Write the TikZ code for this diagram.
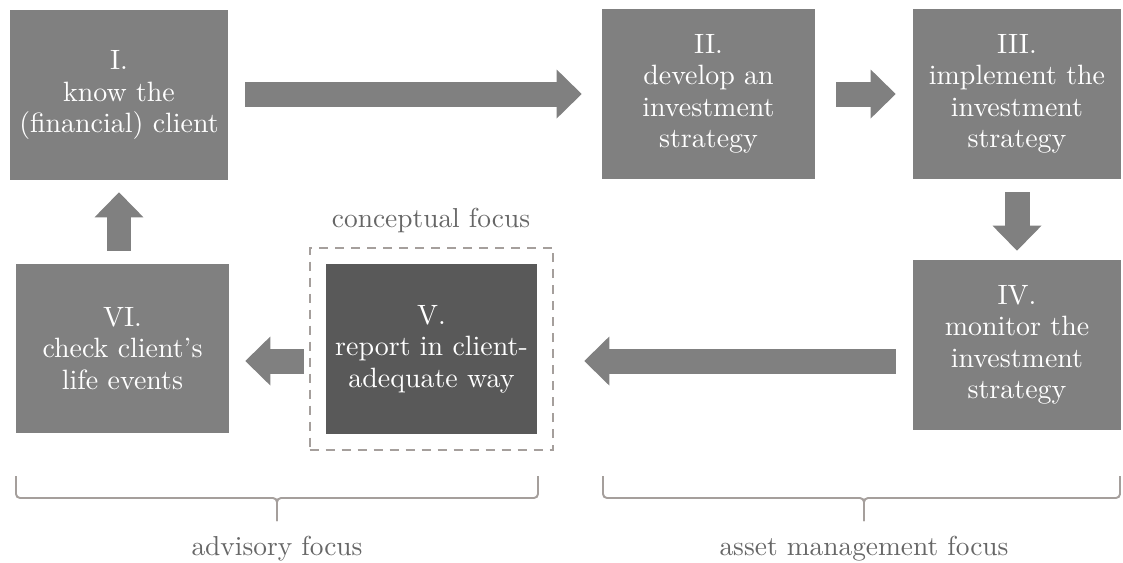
\documentclass[tikz,border=0pt]{standalone}
\usepackage{fontspec}
\usepackage{tikz}
\usetikzlibrary{arrows.meta}
\usetikzlibrary{fit}
\newfontfamily\stepfont{lmroman10-regular.otf}[Ligatures=TeX]
\definecolor{stepgray}{HTML}{808080}
\definecolor{reportgray}{HTML}{595959}
\definecolor{labelgray}{HTML}{666666}
\definecolor{bracegray}{HTML}{A59F9C}
\tikzset{
  stepbox/.style={fill=stepgray, text=white, minimum height=3.4cm, inner sep=0pt,
    align=center, font=\stepfont\fontsize{15.9}{17.9}\selectfont},
  flow/.style={draw=stepgray, line width=0.5cm,
    -{Triangle[length=0.5cm,width=0.98cm,line width=0pt]}},
  focus/.style={text=labelgray, font=\stepfont\fontsize{15.6}{18}\selectfont},
  bracket/.style={draw=bracegray, line width=1.1pt, rounded corners=0.08cm}
}
\begin{document}
\begin{tikzpicture}[x=0.02cm, y=-0.02cm]
\useasboundingbox (0,0) rectangle (1123,562);

% Steps
\node[stepbox, minimum width=4.36cm] (know) at (119,95) {I.\\know the\\(financial) client};
\node[stepbox, minimum width=4.26cm] (develop) at (708.5,94) {II.\\develop an\\investment\\strategy};
\node[stepbox, minimum width=4.16cm] (implement) at (1017,94) {III.\\implement the\\investment\\strategy};
\node[stepbox, minimum width=4.16cm] (monitor) at (1017,345) {IV.\\monitor the\\investment\\strategy};
\node[stepbox, minimum width=4.22cm, fill=reportgray] (report) at (431.5,349) {V.\\report in client-\\adequate way};
\node[stepbox, minimum width=4.26cm] (check) at (122.5,348.5) {VI.\\check client’s\\life events};

% Conceptual focus
\node[draw=bracegray, line width=1.1pt, dash pattern=on 0.18cm off 0.14cm,
  inner sep=0.32cm, fit=(report)] (frame) {};
\node[focus] (conceptual) at (431,220) {conceptual focus};

% Arrows
\coordinate (lower) at (0,361);
\draw[flow, shorten <=0.34cm, shorten >=0.4cm] (know.east |- develop) -- (develop);
\draw[flow, shorten <=0.42cm, shorten >=0.34cm] (develop) -- (implement);
\draw[flow, shorten <=0.26cm, shorten >=0.18cm] (implement) -- (monitor);
\draw[flow, shorten <=0.34cm, shorten >=0.6cm] (monitor.west |- lower) -- (frame.east |- lower);
\draw[flow, shorten <=0.1cm, shorten >=0.32cm] (frame.west |- lower) -- (check.east |- lower);
\draw[flow, shorten <=0.25cm, shorten >=0.24cm] (know.south |- check.north) -- (know.south);

% Braces
\draw[bracket] (16,476) |- (277,498) -- (277,521);
\draw[bracket] (538,476) |- (277,498) -- (277,521);
\node[focus] (advisory) at (277,549) {advisory focus};

\draw[bracket] (603,476) |- (864,498) -- (864,521);
\draw[bracket] (1120,476) |- (864,498) -- (864,521);
\node[focus] (assetmgmt) at (864,549) {asset management focus};

\end{tikzpicture}
\end{document}
